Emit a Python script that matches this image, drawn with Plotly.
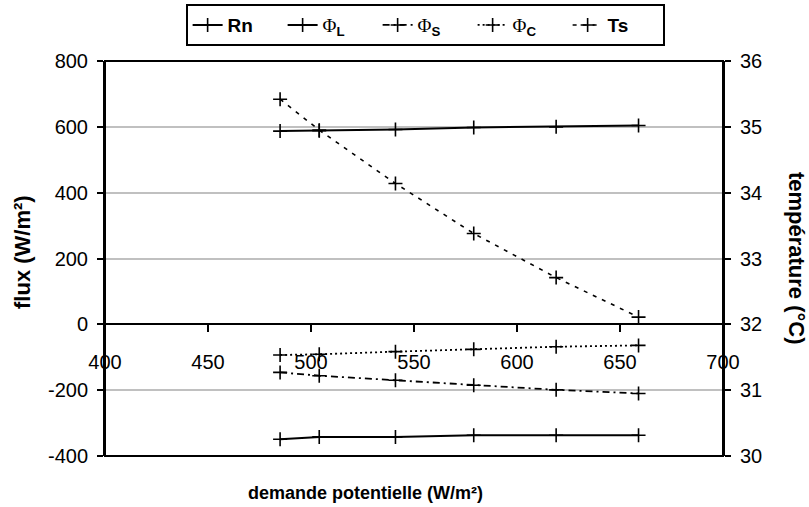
import plotly.graph_objects as go

# Data
demande = [485, 504, 541, 579, 619, 659]          # x: demande potentielle (W/m²)
rn = [587, 588, 592, 598, 600, 604]               # Rn (W/m²)
phi_l = [-349, -342, -342, -337, -337, -337]      # ΦL (W/m²)
phi_s = [-146, -156, -170, -185, -199, -210]      # ΦS (W/m²)
phi_c = [-93, -91, -83, -76, -68, -64]            # ΦC (W/m²)
ts = [35.42, 34.95, 34.14, 33.38, 32.71, 32.11]   # Ts (°C)

x_ticks = [400, 450, 500, 550, 600, 650, 700]
flux_ticks = [-400, -200, 0, 200, 400, 600, 800]
temp_ticks = [30, 31, 32, 33, 34, 35, 36]

FONT = "Liberation Sans, Arial, sans-serif"
PHI = "<span style='font-family:Liberation Serif, Times New Roman, serif;font-weight:normal'>Φ</span>"

marker = dict(symbol="cross-thin", size=10, line=dict(width=1.6, color="black"), color="black")

fig = go.Figure()
fig.add_trace(go.Scatter(x=demande, y=rn, mode="lines+markers", name="<b>Rn</b>",
                         line=dict(color="black", width=2, dash="solid"), marker=marker))
fig.add_trace(go.Scatter(x=demande, y=phi_l, mode="lines+markers", name=PHI + "<sub><b>L</b></sub>",
                         line=dict(color="black", width=2, dash="solid"), marker=marker))
fig.add_trace(go.Scatter(x=demande, y=phi_s, mode="lines+markers", name=PHI + "<sub><b>S</b></sub>",
                         line=dict(color="black", width=1.8, dash="7px,4px,2px,4px"), marker=marker))
fig.add_trace(go.Scatter(x=demande, y=phi_c, mode="lines+markers", name=PHI + "<sub><b>C</b></sub>",
                         line=dict(color="black", width=1.8, dash="2px,3px"), marker=marker))
fig.add_trace(go.Scatter(x=demande, y=ts, mode="lines+markers", name="<b>Ts</b>", yaxis="y2",
                         line=dict(color="black", width=1.6, dash="4px,6px"), marker=marker))

fig.update_layout(
    width=809, height=507,
    margin=dict(l=105, r=86, t=61, b=51, autoexpand=False),
    paper_bgcolor="white", plot_bgcolor="white",
    font=dict(family=FONT, size=20, color="black"),
    xaxis=dict(range=[400, 700], tickvals=x_ticks, ticktext=[str(v) for v in x_ticks],
               anchor="free", position=1/3, showline=True, linecolor="black", linewidth=2,
               ticks="outside", ticklen=7, tickwidth=1.5, tickcolor="black",
               showgrid=False, zeroline=False, ticklabelstandoff=13, automargin=False,
               tickfont=dict(family=FONT, size=20)),
    yaxis=dict(range=[-400, 800], tickvals=flux_ticks, ticktext=[str(v) for v in flux_ticks],
               showline=True, linecolor="black", linewidth=2,
               ticks="outside", ticklen=6, tickwidth=1.5, tickcolor="black", ticklabelstandoff=5,
               showgrid=True, gridcolor="#c0c0c0", gridwidth=1.5, zeroline=False, automargin=False,
               tickfont=dict(family=FONT, size=20)),
    yaxis2=dict(range=[30, 36], tickvals=temp_ticks, ticktext=[str(v) for v in temp_ticks],
                overlaying="y", side="right", anchor="x",
                showline=True, linecolor="black", linewidth=2,
                ticks="outside", ticklen=6, tickwidth=1.5, tickcolor="black", ticklabelstandoff=5,
                showgrid=False, zeroline=False, automargin=False,
                tickfont=dict(family=FONT, size=20)),
    yaxis3=dict(range=[30, 36], tickvals=temp_ticks, showticklabels=False,
                overlaying="y", side="right", anchor="x",
                showline=False, ticks="inside", ticklen=5, tickwidth=1.5, tickcolor="black",
                showgrid=False, zeroline=False, automargin=False),
    legend=dict(orientation="h", x=0.518, xanchor="center", y=1.144, yanchor="top",
                bordercolor="black", borderwidth=2, bgcolor="white",
                font=dict(family=FONT, size=19, color="black"),
                entrywidth=50, entrywidthmode="pixels", itemwidth=30),
    shapes=[dict(type="rect", xref="x domain", yref="y domain", x0=0, x1=1, y0=0, y1=1,
                 line=dict(color="black", width=2), layer="above")],
    annotations=[
        dict(text="<b>flux (W/m²)</b>", xref="paper", yref="paper", x=-0.1327, y=0.5165,
             xanchor="center", yanchor="middle",
             textangle=-90, showarrow=False, font=dict(family=FONT, size=22)),
        dict(text="<b>température (°C)</b>", xref="paper", yref="paper", x=1.1181, y=0.499,
             xanchor="center", yanchor="middle",
             textangle=90, showarrow=False, font=dict(family=FONT, size=22)),
        dict(text="<b>demande potentielle (W/m²)</b>", xref="paper", yref="paper", x=0.422, y=-0.0937,
             xanchor="center", yanchor="middle",
             showarrow=False, font=dict(family=FONT, size=18)),
    ],
)

fig.write_html("out.html", config={"displayModeBar": False},
               post_script="document.body.style.margin='0';")
